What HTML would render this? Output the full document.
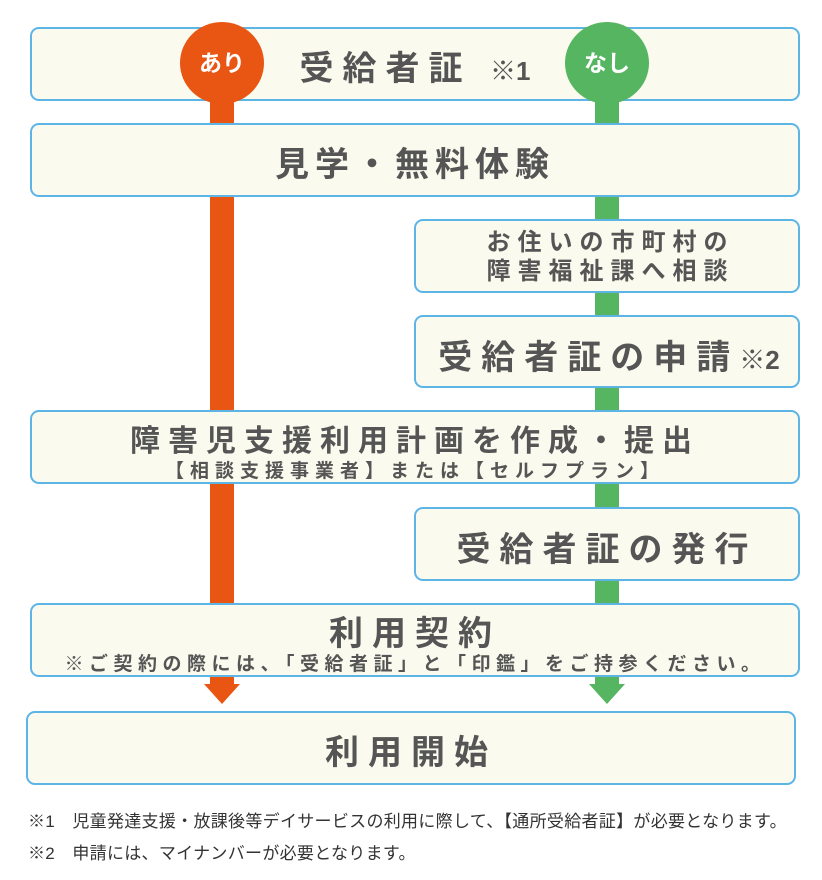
<!DOCTYPE html>
<html><head><meta charset="utf-8"><style>
body{margin:0;width:822px;height:880px;background:#fff;position:relative;overflow:hidden;font-family:"Liberation Sans","Noto Sans CJK JP",sans-serif;color:#555;font-weight:bold}
.b{position:absolute;box-sizing:border-box;border:2px solid #5db5e6;border-radius:9px;background:#fafaee;text-align:center}
.bar{position:absolute;width:24px}
.t{position:absolute;left:0;right:0;text-align:center;white-space:nowrap}
.c{position:absolute;width:84px;height:82px;border-radius:50%;color:#fff;font-size:23px;line-height:82px;text-align:center}
</style></head><body>
<div class="bar" style="left:210px;top:90px;height:596px;background:#e95513"></div>
<div class="bar" style="left:595px;top:90px;height:596px;background:#55b560"></div>
<svg style="position:absolute;left:0;top:0" width="822" height="880">
<polygon points="204,684 240,684 222,704" fill="#e95513"/>
<polygon points="589,684 625,684 607,704" fill="#55b560"/>
</svg>
<div class="b" style="left:30px;top:27px;width:770px;height:74px"><div class="t" style="top:12px;font-size:34px;letter-spacing:9px;padding-left:0px">受給者証 <span style="font-size:26px;letter-spacing:0">※1</span></div></div>
<div class="c" style="left:180px;top:22px;background:#e95513">あり</div>
<div class="c" style="left:565px;top:22px;background:#55b560">なし</div>
<div class="b" style="left:30px;top:123px;width:770px;height:74px"><div class="t" style="top:12px;font-size:34px;letter-spacing:6px">見学・無料体験</div></div>
<div class="b" style="left:414px;top:219px;width:386px;height:74px"><div class="t" style="top:7px;font-size:24px;line-height:29px;letter-spacing:7px;padding-left:7px">お住いの市町村の<br>障害福祉課へ相談</div></div>
<div class="b" style="left:414px;top:315px;width:386px;height:73px"><div class="t" style="top:13px;font-size:34px;letter-spacing:9px;padding-left:4px">受給者証の申請<span style="font-size:26px;letter-spacing:0">※2</span></div></div>
<div class="b" style="left:30px;top:410px;width:770px;height:74px"><div class="t" style="top:4px;font-size:30px;letter-spacing:8px">障害児支援利用計画を作成・提出</div><div class="t" style="top:44px;font-size:19px;letter-spacing:6px">【相談支援事業者】または【セルフプラン】</div></div>
<div class="b" style="left:414px;top:507px;width:386px;height:74px"><div class="t" style="top:13px;font-size:34px;letter-spacing:9px">受給者証の発行</div></div>
<div class="b" style="left:30px;top:603px;width:770px;height:74px"><div class="t" style="top:1px;font-size:34px;letter-spacing:9px">利用契約</div><div class="t" style="top:44px;font-size:19px;letter-spacing:5.5px">※ご契約の際には、「受給者証」と「印鑑」をご持参ください。</div></div>
<div class="b" style="left:26px;top:711px;width:770px;height:74px"><div class="t" style="top:12px;font-size:34px;letter-spacing:9px">利用開始</div></div>
<div style="position:absolute;left:28px;top:807px;font-size:17px;font-weight:normal;white-space:nowrap;letter-spacing:0.3px;color:#333">※1　児童発達支援・放課後等デイサービスの利用に際して、【通所受給者証】が必要となります。</div>
<div style="position:absolute;left:28px;top:839px;font-size:17px;font-weight:normal;white-space:nowrap;letter-spacing:0.3px;color:#333">※2　申請には、マイナンバーが必要となります。</div>
</body></html>
